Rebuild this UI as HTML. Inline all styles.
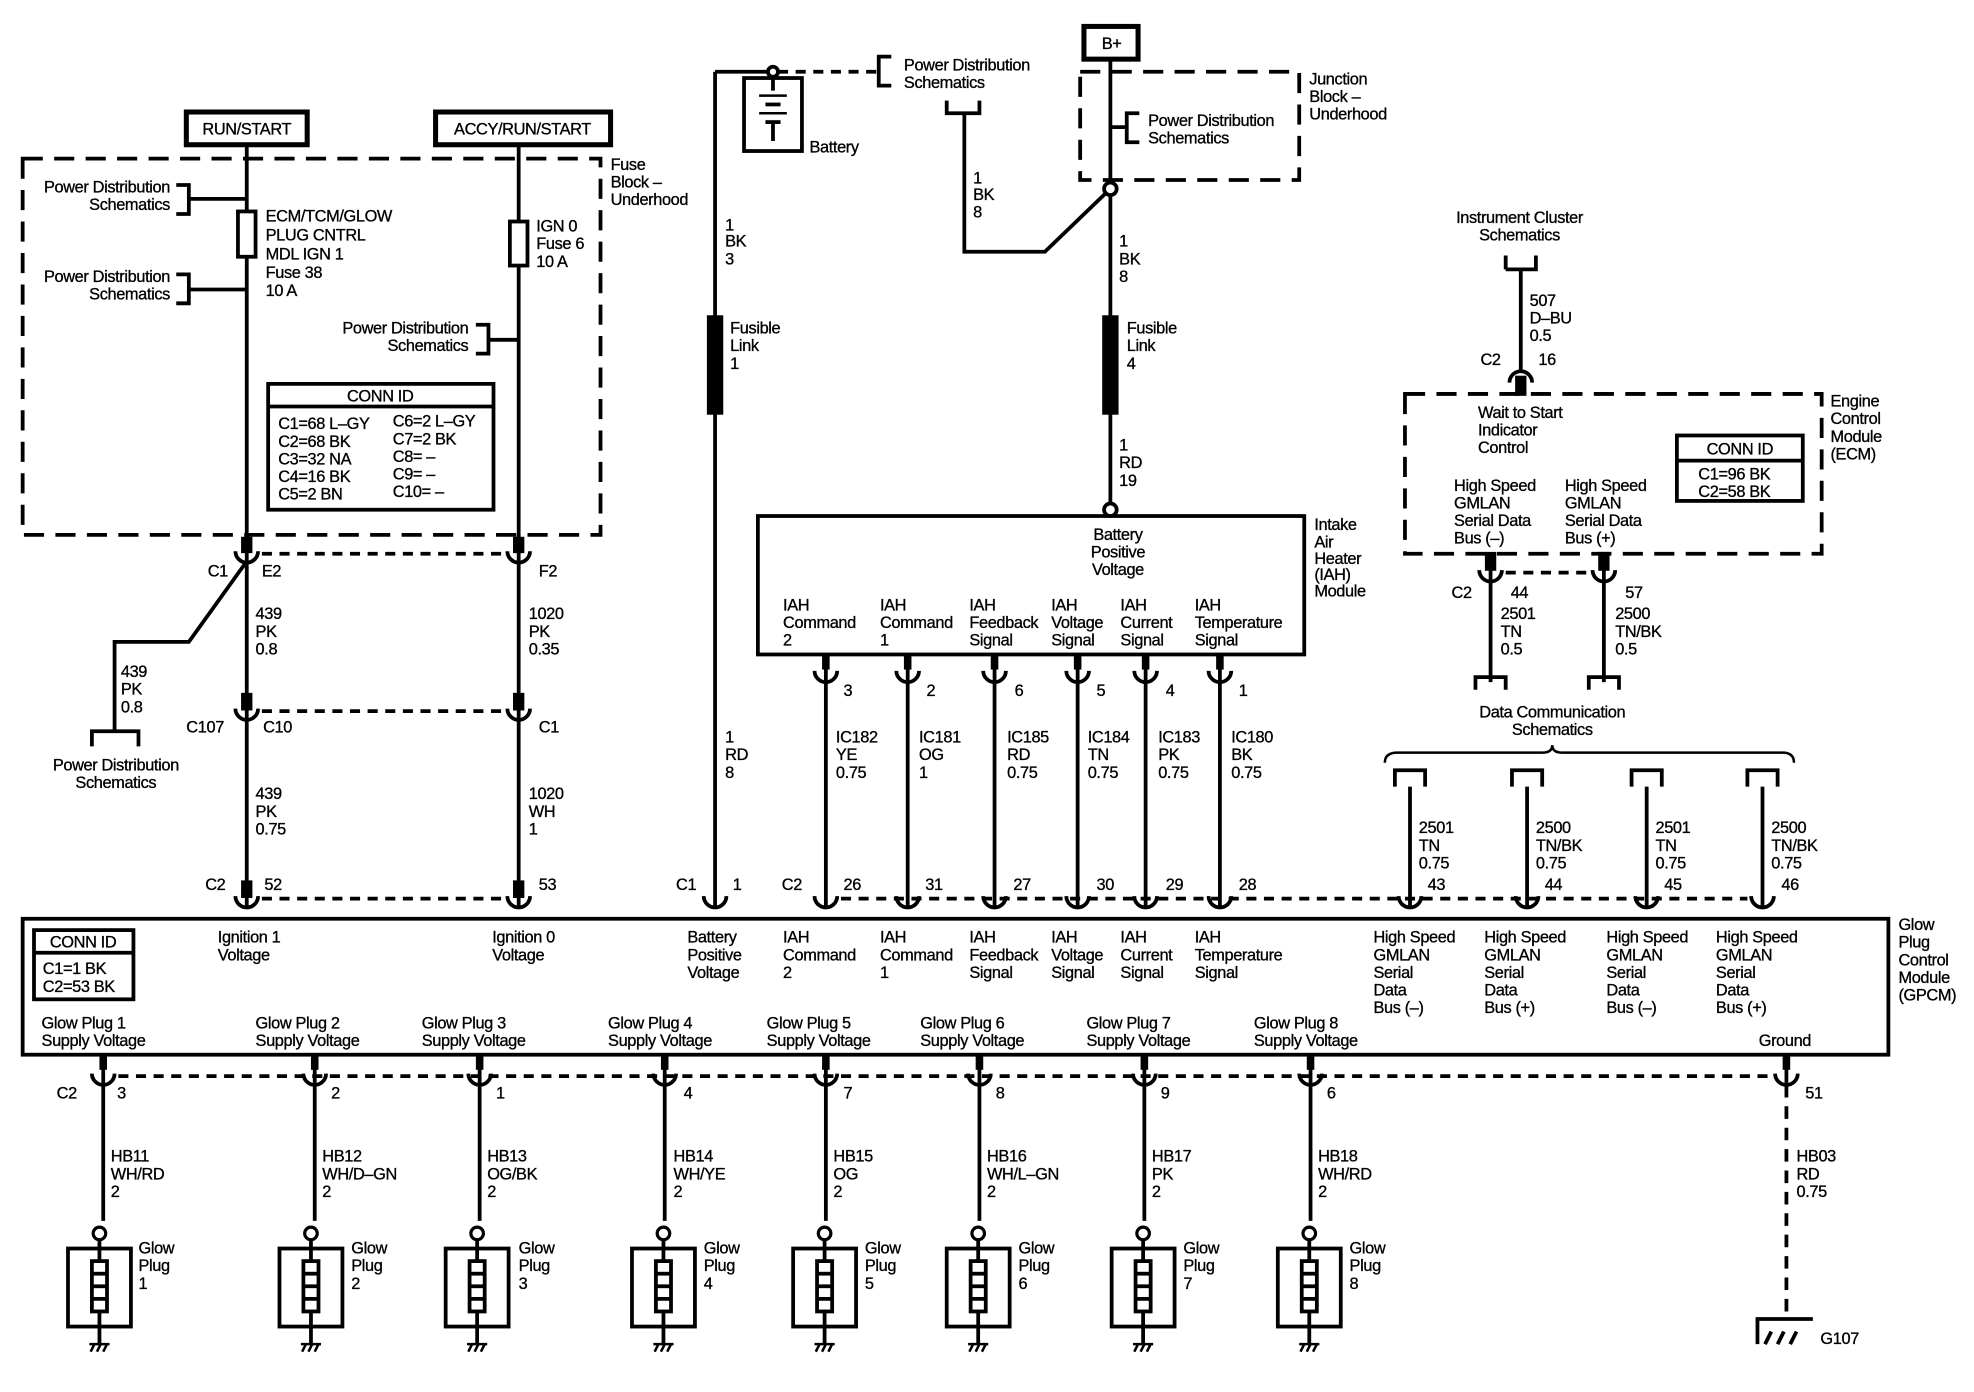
<!DOCTYPE html>
<html><head><meta charset="utf-8"><style>
html,body{margin:0;padding:0;background:#fff}
svg{display:block}
text{font-family:"Liberation Sans",Arial,sans-serif;font-size:13px;fill:#000;letter-spacing:-0.3px;stroke:#000;stroke-width:0.25px}
</style></head><body>
<svg width="1974" height="1392" viewBox="0 0 1568 1106" preserveAspectRatio="none" xmlns="http://www.w3.org/2000/svg">
<defs>
<path id="cup" d="M-9,-2 A9,9 0 0 0 9,-2" fill="none" stroke="#000" stroke-width="3"/>
<path id="cap" d="M-9,2 A9,9 0 0 1 9,2" fill="none" stroke="#000" stroke-width="3"/>
<g id="gp">
<circle cx="0" cy="0" r="5" fill="#fff" stroke="#000" stroke-width="2.5"/>
<rect x="-25" y="12" width="50" height="62" fill="none" stroke="#000" stroke-width="3"/>
<line x1="0" y1="5" x2="0" y2="88" stroke="#000" stroke-width="3"/>
<rect x="-6" y="22" width="12" height="40" fill="#fff" stroke="#000" stroke-width="3"/>
<line x1="-6" y1="32" x2="6" y2="32" stroke="#000" stroke-width="3"/>
<line x1="-6" y1="42" x2="6" y2="42" stroke="#000" stroke-width="3"/>
<line x1="-6" y1="52" x2="6" y2="52" stroke="#000" stroke-width="3"/>
<path d="M-7,94 L-4,88 M-2,94 L1,88 M3,94 L6,88 M-8,88 L8,88" stroke="#000" stroke-width="2"/>
</g>
</defs>
<g stroke="#000" stroke-width="3" fill="none">
<rect x="148" y="89" width="96" height="26" stroke-width="4"/>
<rect x="346" y="89" width="139" height="26" stroke-width="4"/>
<rect x="861" y="21" width="43" height="26" stroke-width="4"/>
<rect x="18" y="126" width="459" height="299" stroke-dasharray="16,9"/>
<line x1="196" y1="115" x2="196" y2="430"/>
<line x1="412" y1="115" x2="412" y2="430"/>
<rect x="189" y="168" width="14" height="36" fill="#fff"/>
<rect x="405" y="176" width="14" height="35" fill="#fff"/>
<path d="M140,147 L150,147 L150,170 L140,170 M150,158 L196,158"/>
<path d="M140,218 L150,218 L150,241 L140,241 M150,230 L196,230"/>
<path d="M378,258 L388,258 L388,281 L378,281 M388,270 L412,270"/>
<rect x="213" y="305" width="179" height="100"/>
<line x1="213" y1="323" x2="392" y2="323"/>
<line x1="196" y1="425" x2="196" y2="720"/>
<line x1="412" y1="425" x2="412" y2="720"/>
<rect x="193" y="428" width="6" height="10" fill="#000"/>
<rect x="409" y="428" width="6" height="10" fill="#000"/>
<line x1="208" y1="440" x2="400" y2="440" stroke-dasharray="8,6"/>
<rect x="193" y="552" width="6" height="11" fill="#000"/>
<rect x="409" y="552" width="6" height="11" fill="#000"/>
<line x1="208" y1="565" x2="400" y2="565" stroke-dasharray="8,6"/>
<rect x="193" y="701" width="6" height="11" fill="#000"/>
<rect x="409" y="701" width="6" height="11" fill="#000"/>
<line x1="208" y1="714" x2="400" y2="714" stroke-dasharray="8,6"/>
<path d="M196,446 L150,510 L91,510 L91,582"/>
<path d="M73,593 L73,581 L110,581 L110,593"/>
<line x1="568" y1="57" x2="568" y2="720"/>
<line x1="568" y1="57" x2="610" y2="57"/>
<circle cx="614" cy="57" r="4" fill="#fff"/>
<line x1="618" y1="57" x2="698" y2="57" stroke-dasharray="8,6"/>
<rect x="591" y="62" width="46" height="58"/>
<line x1="614" y1="61" x2="614" y2="72"/>
<line x1="603" y1="76" x2="625" y2="76" stroke-width="2"/>
<line x1="608" y1="83" x2="620" y2="83" stroke-width="3"/>
<line x1="603" y1="90" x2="625" y2="90" stroke-width="2"/>
<line x1="608" y1="97" x2="620" y2="97" stroke-width="3"/>
<line x1="614" y1="98" x2="614" y2="112"/>
<path d="M708,45 L698,45 L698,68 L708,68"/>
<path d="M752,80 L752,90 L778,90 L778,80 M766,90 L766,200 L830,200 L882,150"/>
<rect x="563" y="252" width="10" height="76" fill="#000"/>
<line x1="882" y1="47" x2="882" y2="400"/>
<rect x="858" y="57" width="174" height="86" stroke-dasharray="16,9"/>
<path d="M905,90 L895,90 L895,113 L905,113 M882,101 L895,101"/>
<circle cx="882" cy="150" r="5" fill="#fff"/>
<rect x="877" y="252" width="10" height="76" fill="#000"/>
<circle cx="882" cy="405" r="5" fill="#fff"/>
<rect x="602" y="410" width="434" height="110"/>
<line x1="656" y1="520" x2="656" y2="720"/>
<line x1="721" y1="520" x2="721" y2="720"/>
<line x1="790" y1="520" x2="790" y2="720"/>
<line x1="856" y1="520" x2="856" y2="720"/>
<line x1="910" y1="520" x2="910" y2="720"/>
<line x1="969" y1="520" x2="969" y2="720"/>
<g fill="#000" stroke="none">
<rect x="653" y="520" width="6" height="12"/><rect x="718" y="520" width="6" height="12"/><rect x="787" y="520" width="6" height="12"/>
<rect x="853" y="520" width="6" height="12"/><rect x="907" y="520" width="6" height="12"/><rect x="966" y="520" width="6" height="12"/>
</g>
<path d="M1196,214 L1196,203 M1196,214 L1220,214 L1220,203 M1208,214 L1208,295"/>
<rect x="1205" y="300" width="6" height="13" fill="#000"/>
<rect x="1116" y="313" width="331" height="127" stroke-dasharray="16,9"/>
<rect x="1332" y="346" width="100" height="52"/>
<line x1="1332" y1="366" x2="1432" y2="366"/>
<line x1="1184" y1="440" x2="1184" y2="542"/>
<line x1="1274" y1="440" x2="1274" y2="542"/>
<rect x="1181" y="440" width="6" height="12" fill="#000"/>
<rect x="1271" y="440" width="6" height="12" fill="#000"/>
<line x1="1196" y1="455" x2="1262" y2="455" stroke-dasharray="8,6"/>
<path d="M1172,548 L1172,538 L1196,538 L1196,548"/>
<path d="M1262,548 L1262,538 L1286,538 L1286,548"/>
<path d="M1100,606 Q1100,598 1110,598 L1225,598 Q1233,598 1233,592 Q1233,598 1241,598 L1416,598 Q1425,598 1425,606" stroke-width="2"/>
<path d="M1108,625 L1108,612 L1132,612 L1132,625 M1120,625 L1120,720"/>
<path d="M1201,625 L1201,612 L1225,612 L1225,625 M1213,625 L1213,720"/>
<path d="M1296,625 L1296,612 L1320,612 L1320,625 M1308,625 L1308,720"/>
<path d="M1388,625 L1388,612 L1412,612 L1412,625 M1400,625 L1400,720"/>
<line x1="668" y1="714" x2="1388" y2="714" stroke-dasharray="8,6"/>
<rect x="18" y="730" width="1482" height="108"/>
<rect x="27" y="739" width="79" height="55"/>
<line x1="27" y1="757" x2="106" y2="757"/>
<line x1="94" y1="855" x2="1407" y2="855" stroke-dasharray="8,6"/>
<line x1="82" y1="838" x2="82" y2="970"/>
<line x1="250" y1="838" x2="250" y2="970"/>
<line x1="381" y1="838" x2="381" y2="970"/>
<line x1="528" y1="838" x2="528" y2="970"/>
<line x1="656" y1="838" x2="656" y2="970"/>
<line x1="778" y1="838" x2="778" y2="970"/>
<line x1="909" y1="838" x2="909" y2="970"/>
<line x1="1041" y1="838" x2="1041" y2="970"/>
<line x1="1419" y1="838" x2="1419" y2="862"/>
<line x1="1419" y1="862" x2="1419" y2="1048" stroke-dasharray="10,7"/>
<path d="M1396,1068 L1396,1048 L1440,1048 M1402,1068 L1407,1058 M1412,1068 L1417,1058 M1422,1068 L1427,1058"/>
<g fill="#000" stroke="none">
<rect x="79" y="838" width="6" height="12"/><rect x="247" y="838" width="6" height="12"/><rect x="378" y="838" width="6" height="12"/>
<rect x="525" y="838" width="6" height="12"/><rect x="653" y="838" width="6" height="12"/><rect x="775" y="838" width="6" height="12"/>
<rect x="906" y="838" width="6" height="12"/><rect x="1038" y="838" width="6" height="12"/><rect x="1416" y="838" width="6" height="12"/>
</g>
</g>
<use href="#cup" x="196" y="440"/><use href="#cup" x="412" y="440"/>
<use href="#cup" x="196" y="565"/><use href="#cup" x="412" y="565"/>
<use href="#cup" x="196" y="714"/><use href="#cup" x="412" y="714"/>
<use href="#cup" x="568" y="714"/><use href="#cup" x="656" y="714"/><use href="#cup" x="721" y="714"/>
<use href="#cup" x="790" y="714"/><use href="#cup" x="856" y="714"/><use href="#cup" x="910" y="714"/><use href="#cup" x="969" y="714"/>
<use href="#cup" x="1120" y="714"/><use href="#cup" x="1213" y="714"/><use href="#cup" x="1308" y="714"/><use href="#cup" x="1400" y="714"/>
<use href="#cup" x="656" y="535"/><use href="#cup" x="721" y="535"/><use href="#cup" x="790" y="535"/>
<use href="#cup" x="856" y="535"/><use href="#cup" x="910" y="535"/><use href="#cup" x="969" y="535"/>
<use href="#cup" x="1184" y="455"/><use href="#cup" x="1274" y="455"/>
<use href="#cap" x="1208" y="302"/>
<use href="#cup" x="82" y="855"/><use href="#cup" x="250" y="855"/><use href="#cup" x="381" y="855"/><use href="#cup" x="528" y="855"/>
<use href="#cup" x="656" y="855"/><use href="#cup" x="778" y="855"/><use href="#cup" x="909" y="855"/><use href="#cup" x="1041" y="855"/><use href="#cup" x="1419" y="855"/>
<use href="#gp" x="79" y="980"/><use href="#gp" x="247" y="980"/><use href="#gp" x="379" y="980"/><use href="#gp" x="527" y="980"/>
<use href="#gp" x="655" y="980"/><use href="#gp" x="777" y="980"/><use href="#gp" x="908" y="980"/><use href="#gp" x="1040" y="980"/>

<text x="196" y="107" text-anchor="middle">RUN/START</text>
<text x="415" y="107" text-anchor="middle">ACCY/RUN/START</text>
<text x="883" y="39" text-anchor="middle">B+</text>
<text x="485" y="135">Fuse</text><text x="485" y="149">Block –</text><text x="485" y="163">Underhood</text>
<text x="135" y="153" text-anchor="end">Power Distribution</text><text x="135" y="167" text-anchor="end">Schematics</text>
<text x="135" y="224" text-anchor="end">Power Distribution</text><text x="135" y="238" text-anchor="end">Schematics</text>
<text x="372" y="265" text-anchor="end">Power Distribution</text><text x="372" y="279" text-anchor="end">Schematics</text>
<text x="211" y="176">ECM/TCM/GLOW</text><text x="211" y="191">PLUG CNTRL</text><text x="211" y="206">MDL IGN 1</text><text x="211" y="221">Fuse 38</text><text x="211" y="235">10 A</text>
<text x="426" y="184">IGN 0</text><text x="426" y="198">Fuse 6</text><text x="426" y="212">10 A</text>
<text x="302" y="319" text-anchor="middle">CONN ID</text>
<text x="221" y="341">C1=68 L–GY</text><text x="221" y="355">C2=68 BK</text><text x="221" y="369">C3=32 NA</text><text x="221" y="383">C4=16 BK</text><text x="221" y="397">C5=2 BN</text>
<text x="312" y="339">C6=2 L–GY</text><text x="312" y="353">C7=2 BK</text><text x="312" y="367">C8= –</text><text x="312" y="381">C9= –</text><text x="312" y="395">C10= –</text>
<text x="165" y="458">C1</text><text x="208" y="458">E2</text><text x="428" y="458">F2</text>
<text x="203" y="492">439</text><text x="203" y="506">PK</text><text x="203" y="520">0.8</text>
<text x="420" y="492">1020</text><text x="420" y="506">PK</text><text x="420" y="520">0.35</text>
<text x="96" y="538">439</text><text x="96" y="552">PK</text><text x="96" y="566">0.8</text>
<text x="92" y="612" text-anchor="middle">Power Distribution</text><text x="92" y="626" text-anchor="middle">Schematics</text>
<text x="148" y="582">C107</text><text x="209" y="582">C10</text><text x="428" y="582">C1</text>
<text x="203" y="635">439</text><text x="203" y="649">PK</text><text x="203" y="663">0.75</text>
<text x="420" y="635">1020</text><text x="420" y="649">WH</text><text x="420" y="663">1</text>
<text x="163" y="707">C2</text><text x="210" y="707">52</text><text x="428" y="707">53</text>
<text x="718" y="56">Power Distribution</text><text x="718" y="70">Schematics</text>
<text x="643" y="121">Battery</text>
<text x="576" y="183">1</text><text x="576" y="196">BK</text><text x="576" y="210">3</text>
<text x="580" y="265">Fusible</text><text x="580" y="279">Link</text><text x="580" y="293">1</text>
<text x="576" y="590">1</text><text x="576" y="604">RD</text><text x="576" y="618">8</text>
<text x="537" y="707">C1</text><text x="582" y="707">1</text>
<text x="773" y="146">1</text><text x="773" y="159">BK</text><text x="773" y="173">8</text>
<text x="1040" y="67">Junction</text><text x="1040" y="81">Block –</text><text x="1040" y="95">Underhood</text>
<text x="912" y="100">Power Distribution</text><text x="912" y="114">Schematics</text>
<text x="889" y="196">1</text><text x="889" y="210">BK</text><text x="889" y="224">8</text>
<text x="895" y="265">Fusible</text><text x="895" y="279">Link</text><text x="895" y="293">4</text>
<text x="889" y="358">1</text><text x="889" y="372">RD</text><text x="889" y="386">19</text>
<text x="888" y="429" text-anchor="middle">Battery</text><text x="888" y="443" text-anchor="middle">Positive</text><text x="888" y="457" text-anchor="middle">Voltage</text>
<text x="1044" y="421">Intake</text><text x="1044" y="435">Air</text><text x="1044" y="448">Heater</text><text x="1044" y="461">(IAH)</text><text x="1044" y="474">Module</text>
<text x="622" y="485">IAH</text><text x="622" y="499">Command</text><text x="622" y="513">2</text>
<text x="699" y="485">IAH</text><text x="699" y="499">Command</text><text x="699" y="513">1</text>
<text x="770" y="485">IAH</text><text x="770" y="499">Feedback</text><text x="770" y="513">Signal</text>
<text x="835" y="485">IAH</text><text x="835" y="499">Voltage</text><text x="835" y="513">Signal</text>
<text x="890" y="485">IAH</text><text x="890" y="499">Current</text><text x="890" y="513">Signal</text>
<text x="949" y="485">IAH</text><text x="949" y="499">Temperature</text><text x="949" y="513">Signal</text>
<text x="670" y="553">3</text><text x="736" y="553">2</text><text x="806" y="553">6</text><text x="871" y="553">5</text><text x="926" y="553">4</text><text x="984" y="553">1</text>
<text x="664" y="590">IC182</text><text x="664" y="604">YE</text><text x="664" y="618">0.75</text>
<text x="730" y="590">IC181</text><text x="730" y="604">OG</text><text x="730" y="618">1</text>
<text x="800" y="590">IC185</text><text x="800" y="604">RD</text><text x="800" y="618">0.75</text>
<text x="864" y="590">IC184</text><text x="864" y="604">TN</text><text x="864" y="618">0.75</text>
<text x="920" y="590">IC183</text><text x="920" y="604">PK</text><text x="920" y="618">0.75</text>
<text x="978" y="590">IC180</text><text x="978" y="604">BK</text><text x="978" y="618">0.75</text>
<text x="621" y="707">C2</text><text x="670" y="707">26</text><text x="735" y="707">31</text><text x="805" y="707">27</text><text x="871" y="707">30</text><text x="926" y="707">29</text><text x="984" y="707">28</text>
<text x="1207" y="177" text-anchor="middle">Instrument Cluster</text><text x="1207" y="191" text-anchor="middle">Schematics</text>
<text x="1215" y="243">507</text><text x="1215" y="257">D–BU</text><text x="1215" y="271">0.5</text>
<text x="1176" y="290">C2</text><text x="1222" y="290">16</text>
<text x="1174" y="332">Wait to Start</text><text x="1174" y="346">Indicator</text><text x="1174" y="360">Control</text>
<text x="1155" y="390">High Speed</text><text x="1155" y="404">GMLAN</text><text x="1155" y="418">Serial Data</text><text x="1155" y="432">Bus (–)</text>
<text x="1243" y="390">High Speed</text><text x="1243" y="404">GMLAN</text><text x="1243" y="418">Serial Data</text><text x="1243" y="432">Bus (+)</text>
<text x="1382" y="361" text-anchor="middle">CONN ID</text>
<text x="1349" y="381">C1=96 BK</text><text x="1349" y="395">C2=58 BK</text>
<text x="1454" y="323">Engine</text><text x="1454" y="337">Control</text><text x="1454" y="351">Module</text><text x="1454" y="365">(ECM)</text>
<text x="1153" y="475">C2</text><text x="1200" y="475">44</text><text x="1291" y="475">57</text>
<text x="1192" y="492">2501</text><text x="1192" y="506">TN</text><text x="1192" y="520">0.5</text>
<text x="1283" y="492">2500</text><text x="1283" y="506">TN/BK</text><text x="1283" y="520">0.5</text>
<text x="1233" y="570" text-anchor="middle">Data Communication</text><text x="1233" y="584" text-anchor="middle">Schematics</text>
<text x="1127" y="662">2501</text><text x="1127" y="676">TN</text><text x="1127" y="690">0.75</text>
<text x="1220" y="662">2500</text><text x="1220" y="676">TN/BK</text><text x="1220" y="690">0.75</text>
<text x="1315" y="662">2501</text><text x="1315" y="676">TN</text><text x="1315" y="690">0.75</text>
<text x="1407" y="662">2500</text><text x="1407" y="676">TN/BK</text><text x="1407" y="690">0.75</text>
<text x="1134" y="707">43</text><text x="1227" y="707">44</text><text x="1322" y="707">45</text><text x="1415" y="707">46</text>
<text x="66" y="753" text-anchor="middle">CONN ID</text>
<text x="34" y="774">C1=1 BK</text><text x="34" y="788">C2=53 BK</text>
<text x="173" y="749">Ignition 1</text><text x="173" y="763">Voltage</text>
<text x="391" y="749">Ignition 0</text><text x="391" y="763">Voltage</text>
<text x="546" y="749">Battery</text><text x="546" y="763">Positive</text><text x="546" y="777">Voltage</text>
<text x="622" y="749">IAH</text><text x="622" y="763">Command</text><text x="622" y="777">2</text>
<text x="699" y="749">IAH</text><text x="699" y="763">Command</text><text x="699" y="777">1</text>
<text x="770" y="749">IAH</text><text x="770" y="763">Feedback</text><text x="770" y="777">Signal</text>
<text x="835" y="749">IAH</text><text x="835" y="763">Voltage</text><text x="835" y="777">Signal</text>
<text x="890" y="749">IAH</text><text x="890" y="763">Current</text><text x="890" y="777">Signal</text>
<text x="949" y="749">IAH</text><text x="949" y="763">Temperature</text><text x="949" y="777">Signal</text>
<text x="1091" y="749">High Speed</text><text x="1091" y="763">GMLAN</text><text x="1091" y="777">Serial</text><text x="1091" y="791">Data</text><text x="1091" y="805">Bus (–)</text>
<text x="1179" y="749">High Speed</text><text x="1179" y="763">GMLAN</text><text x="1179" y="777">Serial</text><text x="1179" y="791">Data</text><text x="1179" y="805">Bus (+)</text>
<text x="1276" y="749">High Speed</text><text x="1276" y="763">GMLAN</text><text x="1276" y="777">Serial</text><text x="1276" y="791">Data</text><text x="1276" y="805">Bus (–)</text>
<text x="1363" y="749">High Speed</text><text x="1363" y="763">GMLAN</text><text x="1363" y="777">Serial</text><text x="1363" y="791">Data</text><text x="1363" y="805">Bus (+)</text>
<text x="1508" y="739">Glow</text><text x="1508" y="753">Plug</text><text x="1508" y="767">Control</text><text x="1508" y="781">Module</text><text x="1508" y="795">(GPCM)</text>
<text x="33" y="817">Glow Plug 1</text><text x="33" y="831">Supply Voltage</text>
<text x="203" y="817">Glow Plug 2</text><text x="203" y="831">Supply Voltage</text>
<text x="335" y="817">Glow Plug 3</text><text x="335" y="831">Supply Voltage</text>
<text x="483" y="817">Glow Plug 4</text><text x="483" y="831">Supply Voltage</text>
<text x="609" y="817">Glow Plug 5</text><text x="609" y="831">Supply Voltage</text>
<text x="731" y="817">Glow Plug 6</text><text x="731" y="831">Supply Voltage</text>
<text x="863" y="817">Glow Plug 7</text><text x="863" y="831">Supply Voltage</text>
<text x="996" y="817">Glow Plug 8</text><text x="996" y="831">Supply Voltage</text>
<text x="1397" y="831">Ground</text>
<text x="45" y="873">C2</text><text x="93" y="873">3</text><text x="263" y="873">2</text><text x="394" y="873">1</text><text x="543" y="873">4</text>
<text x="670" y="873">7</text><text x="791" y="873">8</text><text x="922" y="873">9</text><text x="1054" y="873">6</text><text x="1434" y="873">51</text>
<text x="88" y="923">HB11</text><text x="88" y="937">WH/RD</text><text x="88" y="951">2</text>
<text x="256" y="923">HB12</text><text x="256" y="937">WH/D–GN</text><text x="256" y="951">2</text>
<text x="387" y="923">HB13</text><text x="387" y="937">OG/BK</text><text x="387" y="951">2</text>
<text x="535" y="923">HB14</text><text x="535" y="937">WH/YE</text><text x="535" y="951">2</text>
<text x="662" y="923">HB15</text><text x="662" y="937">OG</text><text x="662" y="951">2</text>
<text x="784" y="923">HB16</text><text x="784" y="937">WH/L–GN</text><text x="784" y="951">2</text>
<text x="915" y="923">HB17</text><text x="915" y="937">PK</text><text x="915" y="951">2</text>
<text x="1047" y="923">HB18</text><text x="1047" y="937">WH/RD</text><text x="1047" y="951">2</text>
<text x="1427" y="923">HB03</text><text x="1427" y="937">RD</text><text x="1427" y="951">0.75</text>
<text x="110" y="996">Glow</text><text x="110" y="1010">Plug</text><text x="110" y="1024">1</text>
<text x="279" y="996">Glow</text><text x="279" y="1010">Plug</text><text x="279" y="1024">2</text>
<text x="412" y="996">Glow</text><text x="412" y="1010">Plug</text><text x="412" y="1024">3</text>
<text x="559" y="996">Glow</text><text x="559" y="1010">Plug</text><text x="559" y="1024">4</text>
<text x="687" y="996">Glow</text><text x="687" y="1010">Plug</text><text x="687" y="1024">5</text>
<text x="809" y="996">Glow</text><text x="809" y="1010">Plug</text><text x="809" y="1024">6</text>
<text x="940" y="996">Glow</text><text x="940" y="1010">Plug</text><text x="940" y="1024">7</text>
<text x="1072" y="996">Glow</text><text x="1072" y="1010">Plug</text><text x="1072" y="1024">8</text>
<text x="1446" y="1068">G107</text>
</svg>
</body></html>
